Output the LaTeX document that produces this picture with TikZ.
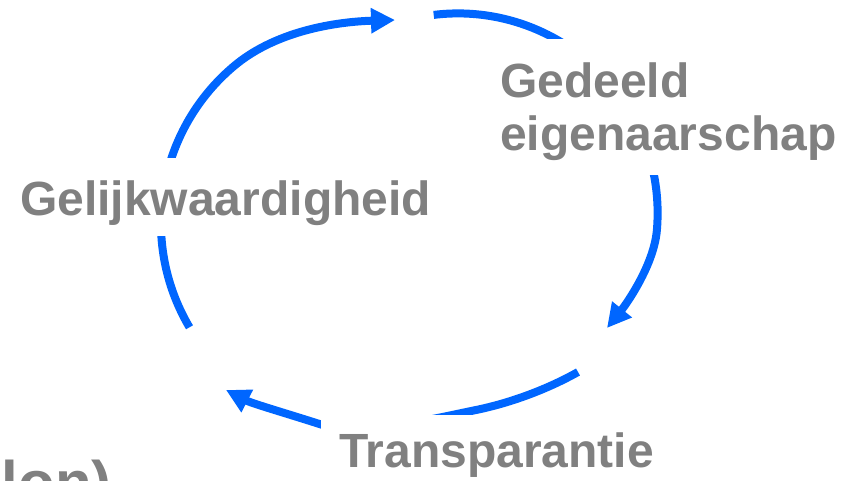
\documentclass[tikz,border=0pt]{standalone}
\usepackage{fontspec}
\setmainfont{Liberation Sans}
\usetikzlibrary{arrows.meta}
\definecolor{cycleblue}{RGB}{0,102,255}
\definecolor{labelgray}{RGB}{128,128,128}
\pgfdeclarelayer{ring}
\pgfdeclarelayer{mask}
\pgfsetlayers{ring,mask,main}
\begin{document}
\begin{tikzpicture}[x=1pt,y=-1pt,
  labeltext/.style={text=labelgray, font=\fontsize{48}{52.5}\selectfont\bfseries, inner sep=0pt},
  cyclearrow/.style={draw=cycleblue, line width=8pt, -{Triangle[length=24pt,width=24pt]}},
  maskbox/.style={fill=white}]
\useasboundingbox (0,0) rectangle (852,480);
\clip (0,0) rectangle (852,480);

% labels of the cycle
\node[labeltext, anchor=north west, align=left] (shared) at (500,63) {Gedeeld\\eigenaarschap};
\node[labeltext, anchor=base west] (transp) at (339,467) {Transparantie};
\node[labeltext, anchor=base west] (equal) at (20,215) {Gelijkwaardigheid};
\node[labeltext, font=\fontsize{60}{66}\selectfont\bfseries, anchor=base east] (tail) at (112,503) {lon)};

% white panels behind the labels interrupt the ring
\begin{pgfonlayer}{mask}
  \fill[maskbox] (2,158) rectangle (452,236);
  \fill[maskbox] (482,39) rectangle (852,175);
  \fill[maskbox] (321,415) rectangle (680,480);
\end{pgfonlayer}

% the three arrows of the ring
\begin{pgfonlayer}{ring}
  \coordinate (a-start) at (433.7,14.9);
  \coordinate (a-end) at (607,328);
  \coordinate (b-start) at (578,372);
  \coordinate (b-end) at (226,390);
  \coordinate (c-start) at (189.5,327.3);
  \coordinate (c-end) at (395,20);
  \draw[cyclearrow] (a-start) arc[start angle=263, end angle=365, radius=199.6]
    .. controls (653.8,265.3) and (626,304.5) .. (a-end);
  \draw[cyclearrow] (b-start) .. controls (547.5,389.2) and (510.3,403) .. (476,410)
    .. controls (427,420) and (359,436.9) .. (321,424.5)
    .. controls (290,414.5) and (252,403.5) .. (b-end);
  \draw[cyclearrow] (c-start) arc[start angle=149.4, end angle=229.6, radius=205]
    .. controls (278.7,27.8) and (345,21.5) .. (c-end);
\end{pgfonlayer}
\end{tikzpicture}
\end{document}
